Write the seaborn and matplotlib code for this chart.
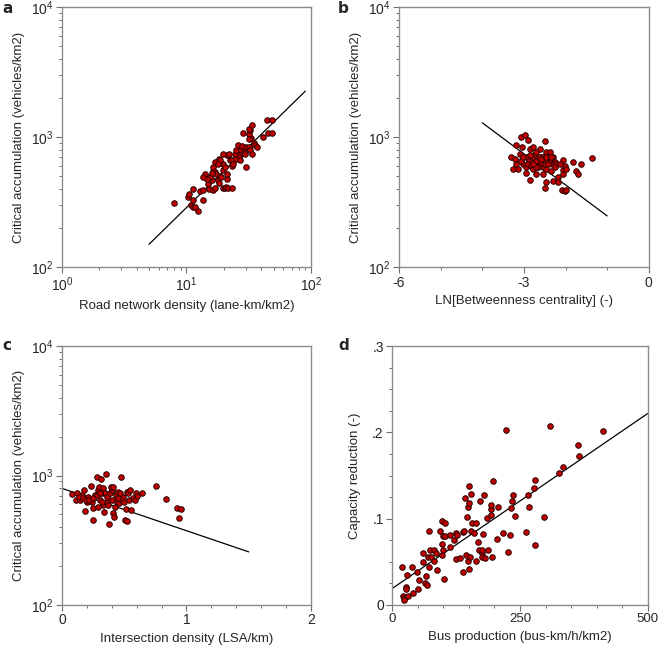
import numpy as np
import pandas as pd
import matplotlib
matplotlib.use("Agg")
import matplotlib.pyplot as plt
import matplotlib.ticker as mticker
import seaborn as sns

# ---- panel a: road network density vs critical accumulation ----
a_x = [8.0, 10.3, 10.4, 11.3, 10.8, 11.3, 11.7, 12.4, 11.3, 13.6, 12.8, 13.5, 14.0, 15.2, 15.0,
       15.9, 15.4, 16.4, 16.8, 16.9, 16.4, 17.4, 18.0, 18.3, 18.5, 18.9, 19.5, 19.7, 20.4, 20.7,
       21.0, 21.7, 23.0, 21.3, 22.3, 18.3, 19.7, 21.3, 22.0, 23.0, 20.4, 23.4, 24.5, 26.0, 25.2,
       26.7, 27.4, 28.1, 28.8, 30.2, 29.8, 31.6, 32.1, 35.0, 35.4, 36.5, 33.4, 33.0, 32.0, 32.0,
       28.3, 32.4, 31.6, 33.4, 44.1, 48.4, 45.4, 48.4, 40.9, 26.3, 25.2, 26.7, 29.5, 19.7, 18.5,
       16.9, 18.0, 16.2, 15.9, 14.6, 23.8, 13.6]
a_y = [309, 344, 364, 396, 300, 291, 290, 271, 331, 328, 384, 391, 519, 402, 435,
       467, 495, 391, 407, 541, 546, 519, 467, 443, 504, 495, 557, 410, 407, 413,
       481, 410, 407, 525, 665, 685, 627, 728, 748, 665, 591, 601, 748, 867, 795,
       748, 795, 850, 770, 840, 591, 840, 795, 894, 868, 840, 742, 982, 1054, 960,
       1079, 1132, 1150, 1244, 1352, 1352, 1079, 1070, 995, 706, 680, 665, 742, 748, 665,
       646, 617, 591, 531, 474, 627, 495]
a_fit_x = [5, 90]
a_fit_y = [150, 2260]

# ---- panel b: LN betweenness centrality vs critical accumulation ----
b_x = [-3.30, -3.18, -3.14, -3.22, -3.06, -2.98, -2.90, -3.04, -3.10, -2.86, -2.94, -2.88, -3.02,
       -2.96, -2.90, -2.82, -2.94, -2.86, -2.78, -2.74, -2.70, -2.66, -2.62, -2.60, -2.54, -2.50,
       -2.47, -2.58, -2.54, -2.50, -2.44, -2.42, -2.38, -2.34, -2.32, -2.29, -2.26, -2.22, -2.46,
       -2.54, -2.47, -2.50, -2.34, -2.30, -2.18, -2.18, -2.06, -2.06, -2.07, -2.02, -2.00, -2.08,
       -2.01, -1.98, -1.83, -1.75, -1.70, -1.62, -1.36, -2.77, -2.70, -2.66, -3.18, -3.26, -3.08,
       -2.77, -3.02, -2.42, -2.26, -2.14, -2.38, -2.86, -2.71, -2.63, -2.58, -2.46, -2.34, -2.70,
       -2.78]
b_y = [702, 873, 570, 681, 1000, 1042, 953, 837, 745, 813, 702, 661, 623,
       589, 623, 605, 528, 470, 702, 736, 767, 661, 813, 710, 702, 942,
       767, 623, 589, 623, 661, 702, 681, 661, 623, 702, 642, 623, 570,
       522, 451, 408, 547, 464, 492, 451, 670, 561, 522, 605, 570, 393,
       384, 393, 646, 547, 517, 623, 694, 570, 522, 589, 623, 570, 661,
       837, 702, 623, 589, 623, 767, 723, 661, 702, 681, 702, 710, 589,
       623]
b_fit_x = [-4, -1]
b_fit_y = [1290, 248]

# ---- panel c: intersection density vs critical accumulation ----
c_x = [0.078, 0.112, 0.145, 0.158, 0.177, 0.185, 0.203, 0.212, 0.230, 0.238, 0.246, 0.252, 0.265,
       0.278, 0.286, 0.295, 0.305, 0.313, 0.319, 0.327, 0.332, 0.337, 0.345, 0.353, 0.359, 0.364,
       0.372, 0.375, 0.386, 0.399, 0.402, 0.412, 0.418, 0.426, 0.434, 0.439, 0.452, 0.461, 0.471,
       0.479, 0.493, 0.506, 0.514, 0.519, 0.525, 0.533, 0.541, 0.546, 0.554, 0.573, 0.586, 0.594,
       0.600, 0.640, 0.755, 0.833, 0.924, 0.956, 0.940, 0.118, 0.139, 0.166, 0.193, 0.220, 0.252,
       0.278, 0.305, 0.391, 0.407, 0.319, 0.292, 0.452, 0.466, 0.498]
c_y = [720, 647, 647, 707, 773, 535, 628, 687, 830, 628, 557, 453, 707,
       980, 773, 820, 647, 933, 728, 592, 796, 526, 728, 1021, 628, 687,
       592, 422, 728, 773, 647, 510, 475, 574, 707, 628, 749, 617, 980,
       647, 687, 453, 551, 445, 749, 728, 647, 773, 542, 667, 647, 728,
       695, 728, 834, 658, 565, 551, 472, 728, 687, 667, 647, 647, 667,
       707, 728, 820, 820, 628, 574, 667, 728, 628]
c_fit_x = [0, 1.5]
c_fit_y = [796, 257]

# ---- panel d: bus production vs capacity reduction ----
d_x = [20, 38, 30, 21, 24, 23, 27, 27, 32, 40, 49, 50, 52, 60, 61, 66, 65, 69, 70, 73, 73, 74, 76,
       81, 82, 87, 86, 93, 98, 98, 98, 99, 99, 103, 102, 104, 113, 113, 121, 124, 125, 126, 133,
       139, 139, 141, 142, 144, 146, 149, 150, 150, 149, 151, 153, 154, 155, 157, 160, 164, 165,
       168, 170, 172, 175, 175, 176, 177, 179, 181, 185, 187, 193, 194, 194, 196, 198, 205, 207,
       217, 223, 227, 231, 233, 235, 236, 240, 262, 266, 267, 277, 279, 280, 298, 309, 327, 334,
       363, 366, 413]
d_y = [.044, .044, .035, .010, .008, .006, .021, .018, .010, .014, .038, .019, .029, .060, .050,
       .033, .025, .023, .056, .044, .086, .064, .055, .051, .064, .040, .060, .086, .097, .058,
       .071, .064, .080, .095, .030, .080, .067, .081, .075, .053, .083, .081, .054, .038, .085,
       .086, .124, .058, .102, .114, .118, .138, .051, .042, .056, .086, .129, .095, .083, .095,
       .051, .073, .064, .121, .060, .064, .056, .082, .127, .054, .101, .064, .104, .111, .116,
       .056, .144, .076, .113, .083, .203, .061, .081, .112, .120, .127, .103, .084, .128, .114,
       .136, .069, .145, .102, .208, .153, .160, .185, .173, .202]
d_fit_x = [0, 500]
d_fit_y = [0.019, 0.222]

sns.set_style("white")
plt.rcParams["font.family"] = ["Liberation Sans", "DejaVu Sans"]
plt.rcParams["mathtext.fontset"] = "custom"
plt.rcParams["mathtext.rm"] = "Liberation Sans"
plt.rcParams["axes.unicode_minus"] = False
plt.rcParams["font.size"] = 9.5

fig = plt.figure(figsize=(6.59, 6.47), dpi=100)
ax_a = fig.add_axes([0.094, 0.587, 0.378, 0.402])
ax_b = fig.add_axes([0.6055, 0.587, 0.379, 0.402])
ax_c = fig.add_axes([0.094, 0.065, 0.378, 0.400])
ax_d = fig.add_axes([0.595, 0.065, 0.388, 0.400])

pt_kw = dict(color="#c00000", edgecolor="#2a0000", linewidth=0.7, s=16, zorder=3)
line_kw = dict(color="black", linewidth=0.9, zorder=2)

panels = [
    (ax_a, a_x, a_y, a_fit_x, a_fit_y),
    (ax_b, b_x, b_y, b_fit_x, b_fit_y),
    (ax_c, c_x, c_y, c_fit_x, c_fit_y),
    (ax_d, d_x, d_y, d_fit_x, d_fit_y),
]
for ax, x, y, fx, fy in panels:
    sns.lineplot(x=fx, y=fy, ax=ax, **line_kw)
    sns.scatterplot(x=x, y=y, ax=ax, **pt_kw)

# log axes
ax_a.set_xscale("log")
for ax in (ax_a, ax_b, ax_c):
    ax.set_yscale("log")
    ax.set_ylim(100, 10000)
    ax.set_ylabel("Critical accumulation (vehicles/km2)")
ax_a.set_xlim(1, 100)
ax_a.set_xlabel("Road network density (lane-km/km2)")

ax_b.set_xlim(-6, 0)
ax_b.set_xticks([-6, -3, 0])
ax_b.xaxis.set_minor_locator(mticker.MultipleLocator(1))
ax_b.set_xlabel("LN[Betweenness centrality] (-)")

ax_c.set_xlim(0, 2)
ax_c.set_xticks([0, 1, 2])
ax_c.xaxis.set_minor_locator(mticker.MultipleLocator(0.2))
ax_c.set_xlabel("Intersection density (LSA/km)")

ax_d.set_xlim(0, 500)
ax_d.set_ylim(0, 0.3)
ax_d.set_xticks([0, 250, 500])
ax_d.xaxis.set_minor_locator(mticker.MultipleLocator(50))
ax_d.set_yticks([0, 0.1, 0.2, 0.3])
ax_d.set_yticklabels(["0", ".1", ".2", ".3"])
ax_d.yaxis.set_minor_locator(mticker.MultipleLocator(0.025))
ax_d.set_xlabel("Bus production (bus-km/h/km2)")
ax_d.set_ylabel("Capacity reduction (-)")

for ax in (ax_a, ax_b, ax_c, ax_d):
    for sp in ax.spines.values():
        sp.set_visible(True)
        sp.set_color("#8c8c8c")
        sp.set_linewidth(1.0)
    ax.tick_params(which="major", direction="out", length=4, width=0.8, color="#6e6e6e",
                   bottom=True, left=True, top=False, right=False, labelsize=10, pad=2)
    ax.tick_params(which="minor", direction="out", length=2.5, width=0.7, color="#6e6e6e",
                   bottom=True, left=True, top=False, right=False)
    ax.xaxis.label.set_size(9.5)
    ax.yaxis.label.set_size(9.5)
    ax.xaxis.labelpad = 4
    ax.yaxis.labelpad = 4
ax_d.yaxis.labelpad = 8
ax_d.tick_params(axis="x", labelsize=9.5)

for lbl, xx, yy in [("a", 0.003, 0.987), ("b", 0.512, 0.987), ("c", 0.003, 0.466), ("d", 0.513, 0.466)]:
    fig.text(xx, yy, lbl, fontsize=11, fontweight="bold", family="DejaVu Sans", va="center")

fig.savefig("out.png", dpi=100)
